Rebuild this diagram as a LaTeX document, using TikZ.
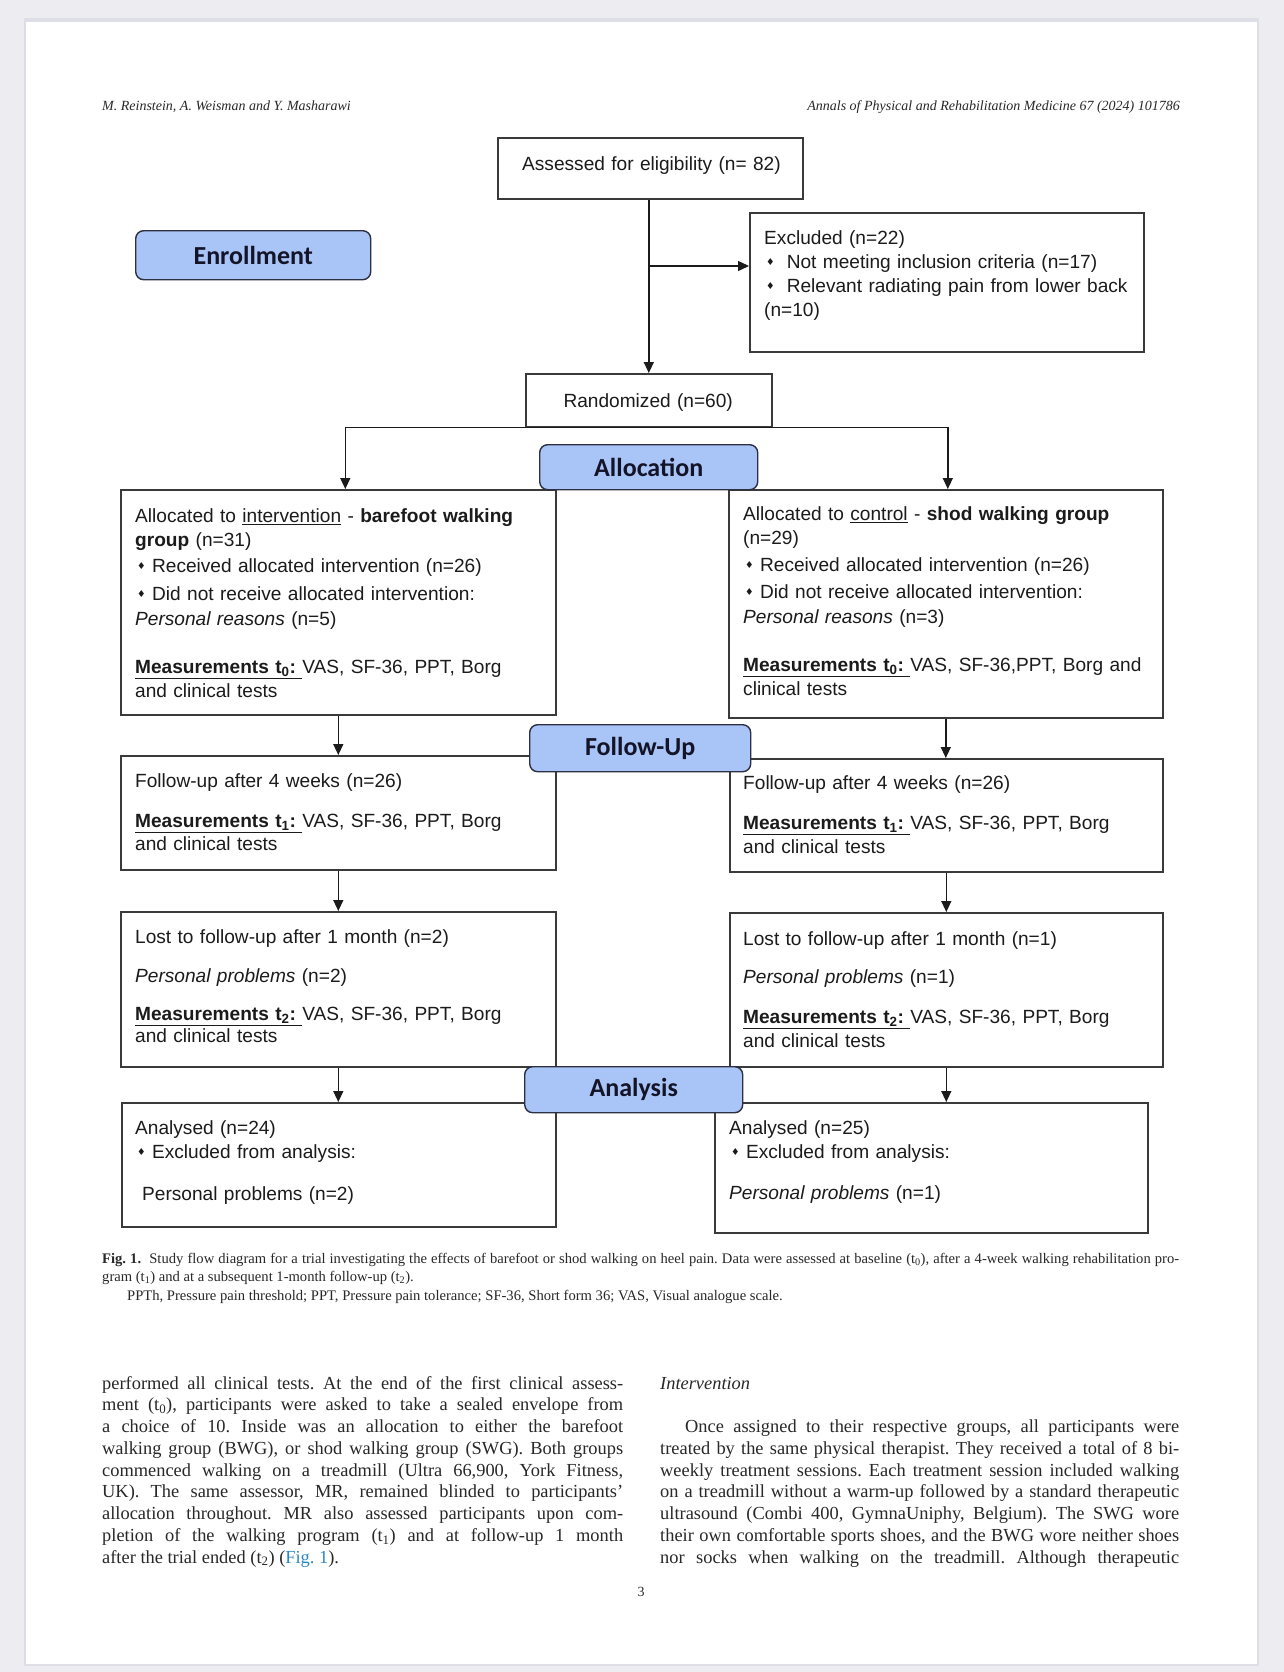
\documentclass[tikz,border=0pt]{standalone}
\usepackage{fontspec}
\usepackage{graphicx}
\setmainfont{Liberation Serif}
\newfontfamily\arialfont{Liberation Sans}
\newfontfamily\phasefont{Carlito}
\newfontfamily\symfont{DejaVu Sans}
\usepackage{tikz}
\usetikzlibrary{positioning,arrows.meta,calc}
\definecolor{pgBack}{RGB}{236,236,241}
\definecolor{pgShade}{RGB}{222,222,230}
\definecolor{phBlue}{RGB}{169,196,246}
\definecolor{phEdge}{RGB}{45,48,66}
\definecolor{phText}{RGB}{20,20,40}
\definecolor{bxEdge}{RGB}{58,58,58}
\definecolor{txDark}{RGB}{27,27,27}
\definecolor{txGray}{RGB}{40,40,40}
\definecolor{lnkBlue}{RGB}{43,136,192}
\frenchspacing
\newcommand{\dmd}{\hspace*{2pt}\raisebox{0.25ex}{\scalebox{0.5}{\symfont ♦}}}
\newcommand{\meas}[1]{\underline{\textbf{Measurements t\textsubscript{#1}:}\ }}
\newcommand{\natspace}{\spaceskip=0pt\xspaceskip=0pt\relax}
\newcommand{\jline}[2]{\makebox[#1][s]{\natspace #2}}
\tikzset{
    flowbox/.style={rectangle, draw=bxEdge, line width=1.6pt, inner sep=0pt, anchor=north west},
    phase/.style={rectangle, rounded corners=8pt, draw=phEdge, line width=1.4pt, fill=phBlue,
                  text=phText, font=\phasefont\bfseries\fontsize{26}{30}\selectfont,
                  inner sep=0pt, anchor=north west},
    boxtxt/.style={anchor=north west, inner sep=0pt, text width=430pt, align=left, text=txDark,
                   font=\arialfont\fontsize{19.1}{24}\selectfont},
    flow/.style={-{Triangle[length=11pt,width=10pt]}, line width=1.4pt, color=txDark},
    serif/.style={inner sep=0pt, text=txGray}
}
\begin{document}
\begin{tikzpicture}[x=1pt, y=-1pt]
  % Page
  \useasboundingbox (0,0) rectangle (1284,1672);
  \fill[pgBack] (0,0) rectangle (1284,1672);
  \fill[pgShade] (24,18) rectangle (1259,1666);
  \fill[white] (26,22) rectangle (1257,1664);

  % Running heads
  \node[serif, anchor=base west, font=\itshape\fontsize{14}{16}\selectfont] (headL) at (102,111) {M. Reinstein, A. Weisman and Y. Masharawi};
  \node[serif, anchor=base east, font=\itshape\fontsize{14}{16}\selectfont] (headR) at (1180,111) {Annals of Physical and Rehabilitation Medicine 67 (2024) 101786};

  % Enrollment boxes
  \node[flowbox, minimum width=305pt, minimum height=61pt] (assess) at (497,137) {};
  \node[flowbox, minimum width=394pt, minimum height=139pt] (excl) at (749,212) {};
  \node[flowbox, minimum width=246pt, minimum height=53pt] (rand) at (525,373) {};

  % Group boxes
  \node[flowbox, minimum width=435pt, minimum height=225pt] (alloL) at (120,489) {};
  \node[flowbox, minimum width=434pt, minimum height=228pt] (alloR) at (728,489) {};
  \node[flowbox, minimum width=435pt, minimum height=114pt] (fuL) at (120,755) {};
  \node[flowbox, minimum width=433pt, minimum height=113pt] (fuR) at (729,758) {};
  \node[flowbox, minimum width=435pt, minimum height=155pt] (lostL) at (120,911) {};
  \node[flowbox, minimum width=433pt, minimum height=154pt] (lostR) at (729,912) {};
  \node[flowbox, minimum width=434pt, minimum height=124pt] (anL) at (121,1102) {};
  \node[flowbox, minimum width=433pt, minimum height=130pt] (anR) at (714,1102) {};

  % Arrows
  \coordinate (split) at (648,266);
  \draw[flow] (rand.north |- assess.south) -- (rand.north);
  \draw[flow] (split) -- (split -| excl.west);
  \draw[flow] (rand.south) -| ([xshift=7pt]alloL.north);
  \draw[flow] (rand.south) -| ([xshift=2pt]alloR.north);
  \draw[flow] (alloL.south) -- (fuL.north);
  \draw[flow] (alloR.south) -- (alloR.south |- fuR.north);
  \draw[flow] (fuL.south) -- (lostL.north);
  \draw[flow] (fuR.south) -- (lostR.north);
  \draw[flow] (lostL.south) -- (lostL.south |- anL.north);
  \draw[flow] (lostR.south) -- (lostR.south |- anR.north);

  % Stage labels
  \node[phase, minimum width=235pt, minimum height=49pt] (enroll) at (135,230) {Enrollment};
  \node[phase, minimum width=218pt, minimum height=45pt] (alloc) at (539,444) {Allocation};
  \node[phase, minimum width=221pt, minimum height=47pt] (follow) at (529,724) {Follow-Up};
  \node[phase, minimum width=218pt, minimum height=46pt] (analysis) at (524,1066) {Analysis};

  % Box texts
  \node[boxtxt] (assess-txt) at (522,153.2) {\strut Assessed for eligibility (n= 82)};
  \node[boxtxt] (excl-txt) at (764,227.2) {\strut Excluded (n=22)\\
    \dmd\hspace{12pt}Not meeting inclusion criteria (n=17)\\
    \dmd\hspace{12pt}Relevant radiating pain from lower back\\
    (n=10)};
  \node[boxtxt, text width=246pt, align=center] (rand-txt) at (525,390.2) {\strut Randomized (n=60)};

  \node[boxtxt] (alloL-txt) at (135,505.2) {\strut Allocated to \underline{intervention} - \textbf{barefoot walking}\\
    \textbf{group} (n=31)\\[2pt]
    \dmd\ Received allocated intervention (n=26)\\[4pt]
    \dmd\ Did not receive allocated intervention:\\[1pt]
    \textit{Personal reasons} (n=5)\\[24pt]
    \meas{0}VAS, SF-36, PPT, Borg\\
    and clinical tests};
  \node[boxtxt] (alloR-txt) at (743,503.2) {\strut Allocated to \underline{control} - \textbf{shod walking group}\\
    (n=29)\\[3pt]
    \dmd\ Received allocated intervention (n=26)\\[3pt]
    \dmd\ Did not receive allocated intervention:\\[1pt]
    \textit{Personal reasons} (n=3)\\[24pt]
    \meas{0}VAS, SF-36,PPT, Borg and\\
    clinical tests};

  \node[boxtxt] (fuL-txt) at (135,770.2) {\strut Follow-up after 4 weeks (n=26)\\[16pt]
    \meas{1}VAS, SF-36, PPT, Borg\\[-1pt]
    and clinical tests};
  \node[boxtxt] (fuR-txt) at (743,772.2) {\strut Follow-up after 4 weeks (n=26)\\[16pt]
    \meas{1}VAS, SF-36, PPT, Borg\\
    and clinical tests};

  \node[boxtxt] (lostL-txt) at (135,926.2) {\strut Lost to follow-up after 1 month (n=2)\\[15pt]
    \textit{Personal problems} (n=2)\\[14pt]
    \meas{2}VAS, SF-36, PPT, Borg\\[-2pt]
    and clinical tests};
  \node[boxtxt] (lostR-txt) at (743,928.2) {\strut Lost to follow-up after 1 month (n=1)\\[14pt]
    \textit{Personal problems} (n=1)\\[16pt]
    \meas{2}VAS, SF-36, PPT, Borg\\
    and clinical tests};

  \node[boxtxt] (anL-txt) at (135,1117.2) {\strut Analysed (n=24)\\
    \dmd\ Excluded from analysis:\\[18pt]
    \hspace*{7pt}Personal problems (n=2)};
  \node[boxtxt] (anR-txt) at (729,1117.2) {\strut Analysed (n=25)\\
    \dmd\ Excluded from analysis:\\[17pt]
    \textit{Personal problems} (n=1)};

  % Caption
  \node[serif, anchor=north west, text width=1080pt, align=left, font=\fontsize{14.6}{18.5}\selectfont] (caption) at (102,1250) {\natspace\strut\jline{1077pt}{\textbf{Fig. 1.}\ \ Study flow diagram for a trial investigating the effects of barefoot or shod walking on heel pain. Data were assessed at baseline (t\textsubscript{0}), after a 4-week walking rehabilitation pro-}\\
    gram (t\textsubscript{1}) and at a subsequent 1-month follow-up (t\textsubscript{2}).\\
    \hspace*{25pt}PPTh, Pressure pain threshold; PPT, Pressure pain tolerance; SF-36, Short form 36; VAS, Visual analogue scale.};

  % Body text
  \node[serif, anchor=north west, text width=525pt, align=left, font=\fontsize{18.4}{21.75}\selectfont] (bodyL) at (102,1373.8) {\natspace\strut\jline{521pt}{performed all clinical tests. At the end of the first clinical assess-}\\
    \jline{521pt}{ment (t\textsubscript{0}), participants were asked to take a sealed envelope from}\\
    \jline{521pt}{a choice of 10. Inside was an allocation to either the barefoot}\\
    \jline{521pt}{walking group (BWG), or shod walking group (SWG). Both groups}\\
    \jline{521pt}{commenced walking on a treadmill (Ultra 66,900, York Fitness,}\\
    \jline{521pt}{UK). The same assessor, MR, remained blinded to participants'}\\
    \jline{521pt}{allocation throughout. MR also assessed participants upon com-}\\
    \jline{521pt}{pletion of the walking program (t\textsubscript{1}) and at follow-up 1 month}\\
    after the trial ended (t\textsubscript{2}) (\textcolor{lnkBlue}{Fig. 1}).};
  \node[serif, anchor=north west, text width=525pt, align=left, font=\fontsize{18.4}{21.75}\selectfont] (bodyR) at (660,1373.8) {\natspace\strut\textit{Intervention}\\[21.75pt]
    \hspace*{25pt}\jline{494pt}{Once assigned to their respective groups, all participants were}\\
    \jline{519pt}{treated by the same physical therapist. They received a total of 8 bi-}\\
    \jline{519pt}{weekly treatment sessions. Each treatment session included walking}\\
    \jline{519pt}{on a treadmill without a warm-up followed by a standard therapeutic}\\
    \jline{519pt}{ultrasound (Combi 400, GymnaUniphy, Belgium). The SWG wore}\\
    \jline{519pt}{their own comfortable sports shoes, and the BWG wore neither shoes}\\
    \jline{519pt}{nor socks when walking on the treadmill. Although therapeutic}};

  \node[serif, anchor=base, font=\fontsize{14}{16}\selectfont] (pagenum) at (641,1596) {3};
\end{tikzpicture}
\end{document}
